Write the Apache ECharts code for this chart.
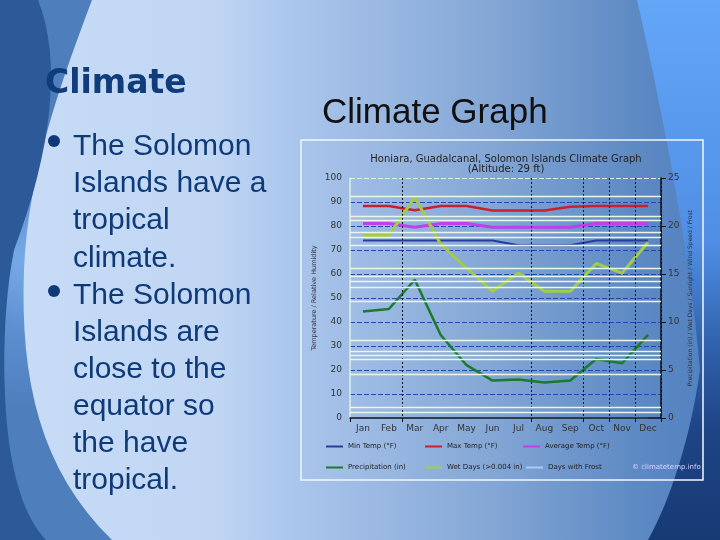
<!DOCTYPE html>
<html><head><meta charset="utf-8">
<script src="https://cdn.jsdelivr.net/npm/echarts@6/dist/echarts.min.js"></script>
<style>html,body{margin:0;padding:0;background:#c6daf4}#c{width:720px;height:540px}</style>
</head><body><div id="c"></div>
<script>
const months = ['Jan','Feb','Mar','Apr','May','Jun','Jul','Aug','Sep','Oct','Nov','Dec'];
const minTemp = [74,74,74,74,74,74,72,72,72,74,74,74];
const maxTemp = [88.3,88.3,86.6,88.3,88.3,86.5,86.5,86.5,88,88.3,88.3,88.3];
const avgTemp = [81,81,79.5,81,81,79.5,79.5,79.5,79.5,81,81,81];
const precip = [11.1,11.35,14.4,8.65,5.5,3.9,4.0,3.7,3.9,6.15,5.7,8.65];
const wetDays = [19,19,23,18.1,15.6,13.2,15.1,13.2,13.2,16.1,15.1,18.3];
const frostDays = [0,0,0,0,0,0,0,0,0,0,0,0];
const leftTicks = [0,100,10];
const rightTicks = [0,25,5];
const dottedBoundaries = [2,7,9,10,11];
const tickBoundaries = [0,2,7,9,10,11,12];
const whiteLines = [92.2,84.2,82.5,77.6,75.5,72.1,62.5,58.9,56.8,54.6,48.5,32.2,28,26.25,24.4,18.3,4.4,2.6];
const bulletLines = ['The Solomon','Islands have a','tropical','climate.','The Solomon','Islands are','close to the','equator so','the have','tropical.'];

const chart = echarts.init(document.getElementById('c'));
const G = echarts.graphic;
const navy = '#0f3a78';

// sample a chain of cubic bezier segments into polygon points (background decoration only)
function bez(start, segs, tail){
  const pts = [start];
  let p0 = start;
  segs.forEach(s=>{
    const [c1,c2,p3] = s;
    for (let k=1;k<=16;k++){
      const t=k/16, u=1-t;
      pts.push([u*u*u*p0[0]+3*u*u*t*c1[0]+3*u*t*t*c2[0]+t*t*t*p3[0],
                u*u*u*p0[1]+3*u*u*t*c1[1]+3*u*t*t*c2[1]+t*t*t*p3[1]]);
    }
    p0 = p3;
  });
  return pts.concat(tail);
}
const medShape = bez([92,0], [[[62,80],[28,170],[24,270]], [[20,380],[40,470],[112,540]]], [[0,540],[0,0]]);
const darkShape = bez([38,0], [[[62,60],[52,150],[14,250]], [[0,320],[2,420],[14,470]], [[22,505],[32,525],[46,540]]], [[0,540],[0,0]]);
const rightShape = bez([637,0], [[[660,100],[690,250],[700,370]], [[690,440],[670,500],[648,540]]], [[720,540],[720,0]]);

const graphics = [
  {type:'rect', shape:{x:0,y:0,width:720,height:540}, z:-10, silent:true,
   style:{fill:new G.LinearGradient(0,0,720,0,[
     {offset:0,color:'#c8dcf6'},{offset:0.3,color:'#c0d6f3'},{offset:0.39,color:'#adc8ee'},
     {offset:0.67,color:'#86a8d6'},{offset:0.88,color:'#5e8ac4'},{offset:1,color:'#5080c0'}],true)}},
  {type:'polygon', z:-9, silent:true, shape:{points:medShape},
   style:{fill:new G.RadialGradient(25,260,150,[{offset:0,color:'#78aae8'},{offset:0.5,color:'#5c8dcf'},{offset:1,color:'#4e7ebc'}],true)}},
  {type:'polygon', z:-8, silent:true, shape:{points:darkShape}, style:{fill:'#2c5997'}},
  {type:'polygon', z:-9, silent:true, shape:{points:rightShape},
   style:{fill:new G.LinearGradient(0,0,0,540,[
     {offset:0,color:'#64a6f8'},{offset:0.45,color:'#4f8ee4'},{offset:0.65,color:'#2f5fa8'},
     {offset:0.8,color:'#1e4484'},{offset:1,color:'#173a75'}],true)}},
  {type:'rect', z:-5, silent:true, shape:{x:301,y:140,width:402,height:340},
   style:{fill:'none', stroke:'#f2f8ff', lineWidth:1.5}},
  {type:'text', x:45, y:84, z:10, style:{text:'Climate', fill:'#113c7c', font:'bold 33px "DejaVu Sans"', verticalAlign:'middle'}},
  {type:'text', x:322, y:113, z:10, style:{text:'Climate Graph', fill:'#111', font:'35px "Liberation Sans"', verticalAlign:'middle'}},
  {type:'circle', z:10, shape:{cx:54,cy:141,r:6}, style:{fill:navy}},
  {type:'circle', z:10, shape:{cx:54,cy:291,r:6}, style:{fill:navy}},
  {type:'text', x:632, y:467, z:10, style:{text:'© climatetemp.info', fill:'#ddd0ff', font:'7px "DejaVu Sans"', verticalAlign:'middle'}}
];
bulletLines.forEach((t,i)=>{
  graphics.push({type:'text', x:73, y:147 + i*37.1, z:10,
    style:{text:t, fill:navy, font:'30px "Liberation Sans"', verticalAlign:'middle'}});
});

const names = ['Min Temp (°F)','Max Temp (°F)','Average Temp (°F)','Precipitation (in)','Wet Days (>0.004 in)','Days with Frost'];
const colors = ['#283c9c','#cc1f2c','#c040ec','#1a7a2e','#a2cc46','#a8c8ff'];
const legendPos = [[321,438],[420,438],[518,438],[321,459],[420,459],[521,459]];
const legends = names.map((n,i)=>({data:[n], left:legendPos[i][0], top:legendPos[i][1], icon:'rect',
  itemWidth:17, itemHeight:2, selectedMode:false, textStyle:{fontSize:7, color:'#222', fontFamily:'DejaVu Sans'}}));

const gridColors = ['rgba(0,0,0,0)'];
for (let v = leftTicks[0] + leftTicks[2]; v < leftTicks[1]; v += leftTicks[2]) gridColors.push('#2848b0');
gridColors.push('#dff2dc');

function line(i, data, axis, width, z){
  return {name:names[i], type:'line', yAxisIndex:axis, data:data, symbol:'none', z:z||3,
    lineStyle:{color:colors[i], width:width}, itemStyle:{color:colors[i]}, emphasis:{disabled:true}};
}

chart.setOption({
  animation:false,
  graphic:{elements:graphics},
  title:{text:'Honiara, Guadalcanal, Solomon Islands Climate Graph\n(Altitude: 29 ft)', left:501, top:149, textAlign:'center',
    textStyle:{fontSize:10, fontWeight:'normal', color:'#222', lineHeight:10, fontFamily:'DejaVu Sans'}},
  legend:legends,
  grid:{left:350, right:59, top:178, bottom:122, containLabel:false},
  xAxis:{type:'category', data:months, boundaryGap:true, z:5,
    axisLine:{lineStyle:{color:'#111', width:1.5}},
    axisTick:{show:true, length:4, lineStyle:{color:'#111'}, interval:(idx)=>tickBoundaries.includes(idx)},
    axisLabel:{interval:0, fontSize:9, color:'#333', margin:6, fontFamily:'DejaVu Sans'},
    splitLine:{show:true, interval:(idx)=>dottedBoundaries.includes(idx), lineStyle:{color:'#111', type:[2,2], width:1}}},
  yAxis:[
    {type:'value', min:leftTicks[0], max:leftTicks[1], interval:leftTicks[2], position:'left',
     name:'Temperature / Relative Humidity', nameLocation:'middle', nameGap:32, nameRotate:90,
     nameTextStyle:{fontSize:6.5, color:'#333', fontFamily:'DejaVu Sans'},
     axisLine:{show:true, lineStyle:{color:'#dff2dc', width:1.5}},
     axisTick:{show:false},
     axisLabel:{fontSize:9, color:'#333', margin:8, fontFamily:'DejaVu Sans'},
     splitLine:{show:true, lineStyle:{color:gridColors, type:[5,2], width:1}}},
    {type:'value', min:rightTicks[0], max:rightTicks[1], interval:rightTicks[2], position:'right',
     name:'Precipitation (in) / Wet Days / Sunlight / Wind Speed / Frost', nameLocation:'middle', nameGap:26, nameRotate:90,
     nameTextStyle:{fontSize:6, color:'#333', fontFamily:'DejaVu Sans'},
     axisLine:{show:true, lineStyle:{color:'#111', width:1.5}},
     axisTick:{show:true, length:5, lineStyle:{color:'#111'}},
     axisLabel:{fontSize:9, color:'#333', margin:7, fontFamily:'DejaVu Sans'},
     splitLine:{show:false}}
  ],
  series:[
    {name:'refLines', type:'line', yAxisIndex:0, data:months.map(()=>null), z:1, silent:true,
     markLine:{silent:true, symbol:'none', label:{show:false}, animation:false,
       lineStyle:{color:'#eaf6e6', width:1.3, type:'solid'}, emphasis:{disabled:true},
       data:whiteLines.map(v=>({yAxis:v}))}},
    line(0, minTemp, 0, 2),
    line(1, maxTemp, 0, 2.5),
    line(2, avgTemp, 0, 3),
    line(3, precip, 1, 2.5),
    line(4, wetDays, 1, 3),
    line(5, frostDays, 1, 1.5, 0)
  ]
});
</script></body></html>
